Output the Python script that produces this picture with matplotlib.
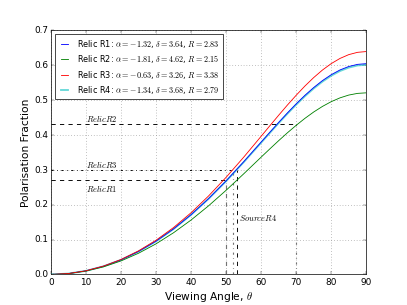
import matplotlib
matplotlib.use('Agg')
import matplotlib.pyplot as plt

# Viewing angle samples (degrees)
theta = [0, 5, 10, 15, 20, 25, 30, 35, 40, 45, 50, 55, 60,
         62.5, 65, 67.5, 70, 72.5, 75, 77.5, 80, 82.5, 85, 87.5, 90]

# Polarisation fraction
p_r1 = [0.0, 0.0026, 0.0104, 0.0235, 0.0419, 0.0659, 0.0954, 0.1306, 0.1714, 0.2175,
        0.2684, 0.3229, 0.3795,
        0.4078, 0.4358, 0.4631, 0.4891, 0.5136, 0.5359, 0.5558, 0.5727, 0.5863, 0.5962, 0.6023, 0.6043]
p_r2 = [0.0, 0.0024, 0.0097, 0.0218, 0.0388, 0.0608, 0.0878, 0.1196, 0.1561, 0.1969,
        0.2413, 0.2883, 0.3364,
        0.3602, 0.3836, 0.4062, 0.4276, 0.4476, 0.4658, 0.4818, 0.4954, 0.5063, 0.5143, 0.5191, 0.5207]
p_r3 = [0.0, 0.0026, 0.0106, 0.0240, 0.0429, 0.0676, 0.0981, 0.1345, 0.1769, 0.2251,
        0.2785, 0.3360, 0.3962,
        0.4265, 0.4565, 0.4858, 0.5138, 0.5403, 0.5645, 0.5861, 0.6045, 0.6193, 0.6302, 0.6368, 0.6390]
p_r4 = [0.0, 0.0026, 0.0104, 0.0234, 0.0418, 0.0657, 0.0952, 0.1302, 0.1709, 0.2168,
        0.2674, 0.3216, 0.3778,
        0.4061, 0.4339, 0.4609, 0.4868, 0.5110, 0.5332, 0.5529, 0.5697, 0.5832, 0.5930, 0.5991, 0.6011]

labels = [r'Relic R1: $\alpha=-1.32$, $\delta=3.64$, $R=2.83$',
          r'Relic R2: $\alpha=-1.81$, $\delta=4.62$, $R=2.15$',
          r'Relic R3: $\alpha=-0.63$, $\delta=3.26$, $R=3.38$',
          r'Relic R4: $\alpha=-1.34$, $\delta=3.68$, $R=2.79$']

# Reference markers: (angle, polarisation level)
ref_r1 = (50, 0.27)
ref_r2 = (70, 0.43)
ref_r3 = (52, 0.30)
ref_r4 = (53, 0.30)

plt.style.use('classic')
plt.rcParams['mathtext.fontset'] = 'cm'
plt.rcParams['font.family'] = ['DejaVu Sans']

fig = plt.figure(figsize=(8, 6), dpi=50.875, facecolor='white')
ax = fig.add_axes([0.125, 0.1, 0.775, 0.8])
ax.set_facecolor('white')

ax.plot(theta, p_r1, color='b', lw=1.2, label=labels[0], zorder=4)
ax.plot(theta, p_r2, color='g', lw=1.2, label=labels[1], zorder=4)
ax.plot(theta, p_r3, color='r', lw=1.2, label=labels[2], zorder=4)
ax.plot(theta, p_r4, color='c', lw=2.6, alpha=0.6, label=labels[3], zorder=3)

# guide lines
ax.plot([0, ref_r2[0]], [ref_r2[1], ref_r2[1]], color='k', ls='--', lw=1.3, zorder=2)
ax.plot([ref_r2[0], ref_r2[0]], [0, ref_r2[1]], color='0.45', ls='-.', lw=1.6, zorder=2)
ax.plot([0, ref_r3[0]], [ref_r3[1], ref_r3[1]], color='k', ls='-.', lw=1.3, zorder=2)
ax.plot([ref_r3[0], ref_r3[0]], [0, ref_r3[1]], color='0.45', ls='-.', lw=1.6, zorder=2)
ax.plot([0, ref_r1[0]], [ref_r1[1], ref_r1[1]], color='k', ls='--', lw=1.3, zorder=2)
ax.plot([ref_r1[0], ref_r1[0]], [0, ref_r1[1]], color='0.45', ls='--', lw=1.6, zorder=2)
ax.plot([ref_r4[0], ref_r4[0]], [0, ref_r4[1]], color='k', ls='--', lw=1.3, zorder=2)

ax.text(10, 0.437, r'$Relic R2$', fontsize=12)
ax.text(10, 0.307, r'$Relic R3$', fontsize=12)
ax.text(10, 0.236, r'$Relic R1$', fontsize=12)
ax.text(53.8, 0.155, r'$Source R4$', fontsize=12)

ax.set_xlim(0, 90)
ax.set_ylim(0, 0.7)
ax.set_xticks(range(0, 91, 10))
ax.set_yticks([0.0, 0.1, 0.2, 0.3, 0.4, 0.5, 0.6, 0.7])
ax.tick_params(labelsize=12.5)
ax.grid(True, color='0.55', ls=':', lw=1.0)
ax.set_axisbelow(True)

ax.set_xlabel(r'Viewing Angle, $\theta$', fontsize=15)
ax.set_ylabel('Polarisation Fraction', fontsize=15)

leg = ax.legend(loc='upper left', fontsize=11.5, fancybox=False, handlelength=1.4,
                borderpad=0.45, labelspacing=0.4, handletextpad=0.9)
leg.get_frame().set_linewidth(1.0)

fig.savefig('out.png', dpi=50.875, facecolor='white')
